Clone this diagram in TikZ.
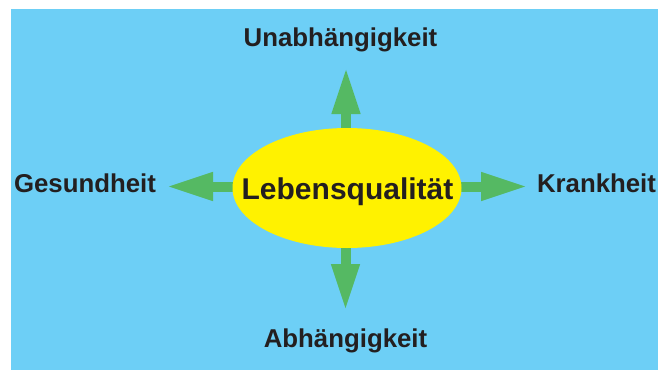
\documentclass[tikz,border=0pt]{standalone}
\usepackage{fontspec}
\setmainfont{Liberation Sans}
\usetikzlibrary{arrows.meta,shapes.geometric}
\definecolor{skyblue}{HTML}{6DCFF6}
\definecolor{arrgreen}{HTML}{55B963}
\definecolor{ellyellow}{HTML}{FFF200}
\definecolor{txtblack}{HTML}{231F20}
\pgfdeclarelayer{bg}
\pgfdeclarelayer{mid}
\pgfsetlayers{bg,mid,main}
\tikzset{
  lbl/.style={font=\fontsize{25.8}{30}\selectfont\bfseries, text=txtblack, anchor=base, inner sep=0pt},
  arr/.style={draw=arrgreen, line width=10pt, -{Triangle[length=47pt,width=26pt]}},
  elli/.style={ellipse, fill=ellyellow, minimum width=229pt, minimum height=120pt, inner sep=0pt}
}
\begin{document}
\begin{tikzpicture}[x=1pt,y=-1pt]
\useasboundingbox (0,0) rectangle (658,370);
\begin{pgfonlayer}{bg}
\fill[skyblue] (11,9) rectangle (658,370);
\end{pgfonlayer}
\node[elli] (e) at (347,188) {};
\node[font=\fontsize{30}{36}\selectfont\bfseries, text=txtblack, anchor=base, inner sep=0pt] (t) at (347.5,199) {Lebensqualität};
\node[lbl] (u) at (340.5,46.5) {Unabhängigkeit};
\node[lbl] (g) at (85,192.5) {Gesundheit};
\node[lbl] (k) at (596.5,192.5) {Krankheit};
\node[lbl] (a) at (345.5,347) {Abhängigkeit};
\coordinate (tu) at (346,67);
\coordinate (td) at (345.5,311);
\coordinate (tl) at (166,186.5);
\coordinate (tr) at (528,186.5);
\coordinate (cu) at (346,186.5);
\coordinate (cd) at (345.5,186.5);
\coordinate (cl) at (347,186.5);
\coordinate (cr) at (347,186.5);
\begin{pgfonlayer}{mid}
\draw[arr] (cu) -- (tu);
\draw[arr] (cd) -- (td);
\draw[arr] (cl) -- (tl);
\draw[arr] (cr) -- (tr);
\end{pgfonlayer}
\end{tikzpicture}
\end{document}
